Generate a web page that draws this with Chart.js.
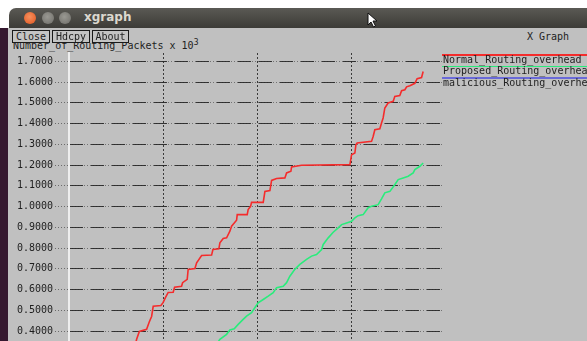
<!DOCTYPE html>
<html>
<head>
<meta charset="utf-8">
<title>xgraph</title>
<script src="https://cdn.jsdelivr.net/npm/chart.js@4"></script>
<style>
  html, body { margin: 0; padding: 0; width: 587px; height: 341px; overflow: hidden; background: #ffffff; }
  .mono { font-family: "DejaVu Sans Mono", "Liberation Mono", monospace; font-size: 10px; color: #1e1e1e; white-space: nowrap; }
  #desk { position: absolute; left: 0; top: 28px; width: 8px; height: 313px; background: #35182f; }
  #win { position: absolute; left: 8px; top: 28px; width: 579px; height: 313px; background: #c0c0c0; }
  #titlebar { position: absolute; left: 9px; top: 8px; width: 578px; height: 20px;
              background: linear-gradient(#5a5954, #3c3b37); border-top-left-radius: 7px; }
  .wbtn { position: absolute; top: 4px; width: 12px; height: 12px; border-radius: 50%; }
  #bclose { left: 15px; background: radial-gradient(circle at 45% 40%, #f7905e, #e0561f); }
  #bmin { left: 33px; background: radial-gradient(circle at 45% 40%, #9a9993, #6d6c67); }
  #bmax { left: 50px; background: radial-gradient(circle at 45% 40%, #9a9993, #6d6c67); }
  #wtitle { position: absolute; left: 75px; top: 2px; font: bold 12px "DejaVu Sans", sans-serif; color: #dcd8cf; }
  .btn { position: absolute; top: 30px; height: 11px; border: 1px solid #1a1a1a; background: #c4c4c4;
         text-align: center; line-height: 11px; z-index: 3; }
  #ytitle { position: absolute; left: 13px; top: 38px; z-index: 1; }
  #ytitle sup { font-size: 8px; vertical-align: 4px; }
  #gtitle { position: absolute; left: 527px; top: 31px; }
  #legend { position: absolute; left: 442px; top: 54px; width: 145px; z-index: 2; overflow: hidden; }
  .lrow { position: relative; height: 11.7px; }
  .lline { position: absolute; left: 0; top: 0; width: 145px; height: 1.6px; z-index: 1; }
  .ltext { position: absolute; left: 1px; top: -0.5px; line-height: 11px; z-index: 2; }
  #wrap { position: absolute; left: 0; top: 0; width: 587px; height: 450px; z-index: 1; }
  #cursor { position: absolute; left: 367px; top: 12px; z-index: 5; }
</style>
</head>
<body>
<div id="desk"></div>
<div id="win"></div>
<div id="titlebar">
  <div class="wbtn" id="bclose"></div>
  <div class="wbtn" id="bmin"></div>
  <div class="wbtn" id="bmax"></div>
  <div id="wtitle">xgraph</div>
</div>
<svg id="cursor" width="12" height="16" viewBox="0 0 12 16">
  <path d="M1 1 L1 13 L4 10 L6.5 15 L8.5 14 L6 9 L10 9 Z" fill="#ffffff" stroke="#111111" stroke-width="1"/>
</svg>
<div class="btn mono" style="left:12px;width:36px;">Close</div>
<div class="btn mono" style="left:52px;width:36px;">Hdcpy</div>
<div class="btn mono" style="left:92px;width:35px;">About</div>
<div id="ytitle" class="mono">Number_of_Routing_Packets x 10<sup>3</sup></div>
<div id="gtitle" class="mono">X Graph</div>
<div id="legend" class="mono"></div>
<div id="wrap"><canvas id="chart" width="587" height="450"></canvas></div>

<script>
// Series names and colours (xgraph default palette)
const seriesNames = ["Normal_Routing_overhead", "Proposed_Routing_overhead", "malicious_Routing_overhead"];
const seriesColors = ["#f42c2c", "#2aec7c", "#6a6ad8"];

// Normal routing overhead: time (s) and packets (x 10^3)
const normalTime = [7.00, 7.18, 7.47, 8.24, 8.51, 8.77, 8.94, 9.76, 10.00, 10.25, 10.53, 11.06, 11.21, 11.95,
  12.06, 12.55, 12.65, 13.37, 13.55, 14.08, 15.14, 15.28, 15.91, 16.02, 16.37, 16.73, 17.08, 17.26, 17.79,
  17.86, 18.92, 19.02, 19.28, 19.38, 20.62, 20.80, 21.33, 21.51, 22.04, 22.92, 23.10, 23.56, 23.63, 24.69,
  29.82, 30.00, 30.35, 30.46, 30.59, 32.12, 32.29, 32.47, 33.00, 33.18, 33.35, 33.53, 33.88, 34.42, 34.59,
  35.12, 35.31, 35.66, 35.84, 36.19, 36.72, 36.96, 37.43, 37.60];
const normalPackets = [0.326, 0.360, 0.398, 0.408, 0.442, 0.470, 0.519, 0.523, 0.538, 0.562, 0.586, 0.587, 0.611, 0.616,
  0.633, 0.649, 0.697, 0.701, 0.729, 0.764, 0.766, 0.793, 0.796, 0.825, 0.846, 0.849, 0.881, 0.905, 0.934,
  0.961, 0.961, 0.985, 1.001, 1.020, 1.020, 1.073, 1.077, 1.126, 1.135, 1.138, 1.162, 1.170, 1.191, 1.199,
  1.202, 1.250, 1.258, 1.298, 1.306, 1.314, 1.338, 1.370, 1.375, 1.403, 1.427, 1.475, 1.499, 1.507, 1.531,
  1.535, 1.558, 1.563, 1.577, 1.582, 1.594, 1.616, 1.622, 1.651];

// Proposed routing overhead
const proposedTime = [15.59, 16.02, 16.73, 17.08, 17.54, 17.96, 18.49, 18.85, 19.38, 19.73, 20.08, 20.62, 21.15,
  21.68, 22.04, 22.74, 23.10, 23.45, 23.98, 24.51, 25.22, 25.75, 26.28, 26.82, 26.99, 27.52, 28.05, 28.58,
  28.94, 29.47, 30.00, 30.35, 30.70, 31.23, 31.76, 32.12, 32.82, 33.18, 33.53, 34.07, 34.60, 34.95, 35.48,
  36.01, 36.54, 36.72, 37.25, 37.60];
const proposedPackets = [0.331, 0.360, 0.384, 0.405, 0.411, 0.432, 0.456, 0.472, 0.488, 0.512, 0.536, 0.552, 0.568,
  0.585, 0.609, 0.616, 0.633, 0.664, 0.697, 0.721, 0.745, 0.761, 0.769, 0.793, 0.817, 0.849, 0.876, 0.897,
  0.913, 0.921, 0.929, 0.945, 0.956, 0.961, 0.994, 1.001, 1.009, 1.037, 1.066, 1.073, 1.106, 1.130, 1.138,
  1.146, 1.162, 1.178, 1.194, 1.210];

// Malicious routing overhead: no samples in this view
const maliciousTime = [];
const maliciousPackets = [];

// Axis settings
const timeTicks = { min: 0, max: 39.6, step: 10 };
const packetTicks = { min: 0, max: 1.74, step: 0.1 };

const toPoints = (xs, ys) => xs.map((x, i) => ({ x: x, y: ys[i] }));
const seriesPoints = [
  toPoints(normalTime, normalPackets),
  toPoints(proposedTime, proposedPackets),
  toPoints(maliciousTime, maliciousPackets)
];

// Legend beside the plot, one coloured rule above each name
const legend = document.getElementById("legend");
seriesNames.forEach((name, i) => {
  const row = document.createElement("div");
  row.className = "lrow";
  const line = document.createElement("div");
  line.className = "lline";
  line.style.background = seriesColors[i];
  const text = document.createElement("div");
  text.className = "ltext";
  text.textContent = name;
  row.appendChild(line);
  row.appendChild(text);
  legend.appendChild(row);
});

Chart.defaults.font.family = "'DejaVu Sans Mono', 'Liberation Mono', monospace";
Chart.defaults.font.size = 10;
Chart.defaults.color = "#1e1e1e";

new Chart(document.getElementById("chart"), {
  type: "line",
  data: {
    datasets: seriesNames.map((name, i) => ({
      label: name,
      data: seriesPoints[i],
      borderColor: seriesColors[i],
      backgroundColor: seriesColors[i],
      borderWidth: 1.6,
      pointRadius: 0,
      tension: 0,
      fill: false
    }))
  },
  options: {
    responsive: false,
    animation: false,
    devicePixelRatio: 1,
    layout: { padding: { top: 53, right: 145, left: 0, bottom: 0 } },
    plugins: { legend: { display: false }, tooltip: { enabled: false } },
    scales: {
      x: {
        type: "linear",
        min: timeTicks.min,
        max: timeTicks.max,
        afterFit: (s) => { s.height = 36; },
        ticks: { stepSize: timeTicks.step, includeBounds: false, color: "#1e1e1e" },
        grid: {
          color: (ctx) => (ctx.tick && ctx.tick.value === 0 ? "rgba(0,0,0,0)" : "#3a3a3a"),
          lineWidth: 1,
          drawTicks: false
        },
        border: { display: false, dash: [2, 2] }
      },
      // faint dotted rules underneath the dashed grid
      yDots: {
        type: "linear",
        axis: "y",
        position: "right",
        display: true,
        min: packetTicks.min,
        max: packetTicks.max,
        ticks: { stepSize: packetTicks.step, includeBounds: false, autoSkip: false, display: false },
        grid: { display: true, drawOnChartArea: true, color: "#727272", lineWidth: 1, drawTicks: false },
        border: { display: false, dash: [1, 2] }
      },
      y: {
        type: "linear",
        position: "left",
        min: packetTicks.min,
        max: packetTicks.max,
        afterFit: (s) => { s.width = 69; },
        ticks: {
          stepSize: packetTicks.step,
          includeBounds: false,
          autoSkip: false,
          padding: 2,
          color: "#1e1e1e",
          callback: (v) => Number(v).toFixed(4)
        },
        grid: {
          color: "rgba(38,38,38,0.9)",
          lineWidth: 1,
          tickLength: 14,
          tickColor: "#6a6a6a",
          tickBorderDash: [1, 2],
          tickWidth: 1
        },
        border: { display: true, color: "#eeeeee", width: 2, dash: [13, 8] }
      }
    }
  }
});
</script>
</body>
</html>
